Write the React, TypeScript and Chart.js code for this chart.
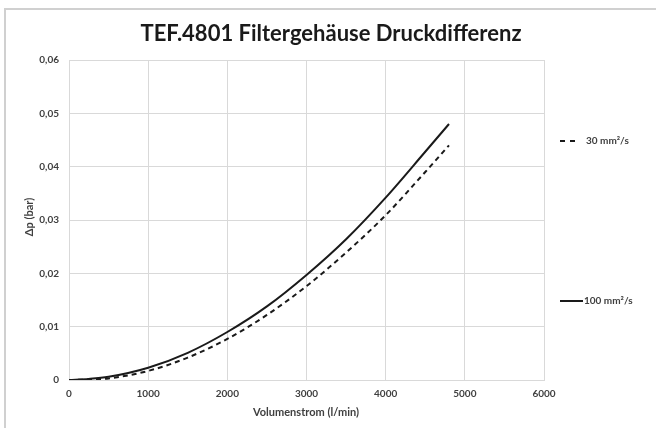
import { useEffect, useRef } from 'react';
import { Chart, registerables } from 'chart.js';

Chart.register(...registerables);

const chartTitle = 'TEF.4801 Filtergehäuse Druckdifferenz';
const xTitle = 'Volumenstrom (l/min)';
const yTitle = 'Δp (bar)';
const flowRates = [0, 250, 500, 1000, 1500, 2000, 2500, 3000, 3500, 4000, 4500, 4800];
const dp100 = [0, 0.0002, 0.0006, 0.0023, 0.0051, 0.009, 0.0138, 0.0197, 0.0264, 0.0342, 0.0428, 0.048];
const dp30 = [0, 0.0001, 0.0003, 0.0017, 0.0042, 0.0077, 0.0122, 0.0176, 0.0239, 0.0309, 0.039, 0.044];
const seriesLabels = ['100 mm²/s', '30 mm²/s'];

const FONT = 'Lato, "Open Sans", sans-serif';
const TXT = '#404040';

const textPlugin = {
  id: 'texts',
  beforeDraw(chart: any) {
    const ctx = chart.ctx;
    ctx.save();
    ctx.fillStyle = '#ffffff';
    ctx.fillRect(0, 0, chart.width, chart.height);
    ctx.strokeStyle = '#d0d0d0';
    ctx.lineWidth = 2;
    ctx.beginPath();
    ctx.moveTo(5, chart.height);
    ctx.lineTo(5, 9);
    ctx.lineTo(chart.width, 9);
    ctx.stroke();
    ctx.restore();
  },
  afterDraw(chart: any) {
    const ctx = chart.ctx;
    ctx.save();
    ctx.fillStyle = '#1a1a1a';
    ctx.textAlign = 'center';
    ctx.textBaseline = 'middle';
    ctx.font = `bold 22px ${FONT}`;
    ctx.fillText(chartTitle, 331, 34);
    ctx.fillStyle = TXT;
    ctx.font = `bold 11px ${FONT}`;
    ctx.fillText(xTitle, 306, 412);
    ctx.save();
    ctx.translate(29, 217);
    ctx.rotate(-Math.PI / 2);
    ctx.fillText(yTitle, 0, 0);
    ctx.restore();
    // legend
    ctx.textAlign = 'left';
    ctx.font = `bold 10px ${FONT}`;
    ctx.strokeStyle = '#1a1a1a';
    ctx.lineWidth = 2;
    ctx.setLineDash([5, 5]);
    ctx.beginPath();
    ctx.moveTo(560, 141);
    ctx.lineTo(576, 141);
    ctx.stroke();
    ctx.fillText(seriesLabels[1], 586, 141);
    ctx.setLineDash([]);
    ctx.beginPath();
    ctx.moveTo(560, 301);
    ctx.lineTo(583, 301);
    ctx.stroke();
    ctx.fillText(seriesLabels[0], 584, 301);
    ctx.restore();
  },
};

export default function App() {
  const ref = useRef<HTMLCanvasElement>(null);
  useEffect(() => {
    if (!ref.current) return;
    const chart = new Chart(ref.current, {
      type: 'line',
      data: {
        datasets: [
          {
            label: seriesLabels[0],
            data: flowRates.map((x, i) => ({ x, y: dp100[i] })),
            borderColor: '#1a1a1a',
            borderWidth: 2,
            pointRadius: 0,
            cubicInterpolationMode: 'monotone',
            fill: false,
          },
          {
            label: seriesLabels[1],
            data: flowRates.map((x, i) => ({ x, y: dp30[i] })),
            borderColor: '#1a1a1a',
            borderWidth: 2,
            borderDash: [5, 4],
            pointRadius: 0,
            cubicInterpolationMode: 'monotone',
            fill: false,
          },
        ],
      },
      options: {
        responsive: false,
        animation: false,
        layout: { padding: { top: 60, right: 112, left: 0, bottom: 0 } },
        plugins: { legend: { display: false }, title: { display: false }, tooltip: { enabled: false } },
        scales: {
          x: {
            type: 'linear',
            min: 0,
            max: 6000,
            afterFit: (s: any) => { s.height = 48; },
            grid: { color: '#d9d9d9', drawTicks: false },
            border: { color: '#d9d9d9' },
            ticks: {
              stepSize: 1000,
              padding: 8,
              color: TXT,
              font: { family: FONT, size: 10, weight: 'bold' },
              callback: (v: any) => String(v),
              maxRotation: 0,
            },
          },
          y: {
            min: 0,
            max: 0.06,
            afterFit: (s: any) => { s.width = 69; },
            grid: { color: '#d9d9d9', drawTicks: false },
            border: { color: '#d9d9d9' },
            ticks: {
              stepSize: 0.01,
              padding: 10,
              color: TXT,
              font: { family: FONT, size: 10, weight: 'bold' },
              callback: (v: any) => (v === 0 ? '0' : Number(v).toFixed(2).replace('.', ',')),
            },
          },
        },
      },
      plugins: [textPlugin],
    } as any);
    return () => chart.destroy();
  }, []);
  return (
    <div style={{ position: 'fixed', left: 0, top: 0, width: 656, height: 428 }}>
      <canvas ref={ref} width={656} height={428} style={{ display: 'block' }} />
    </div>
  );
}
